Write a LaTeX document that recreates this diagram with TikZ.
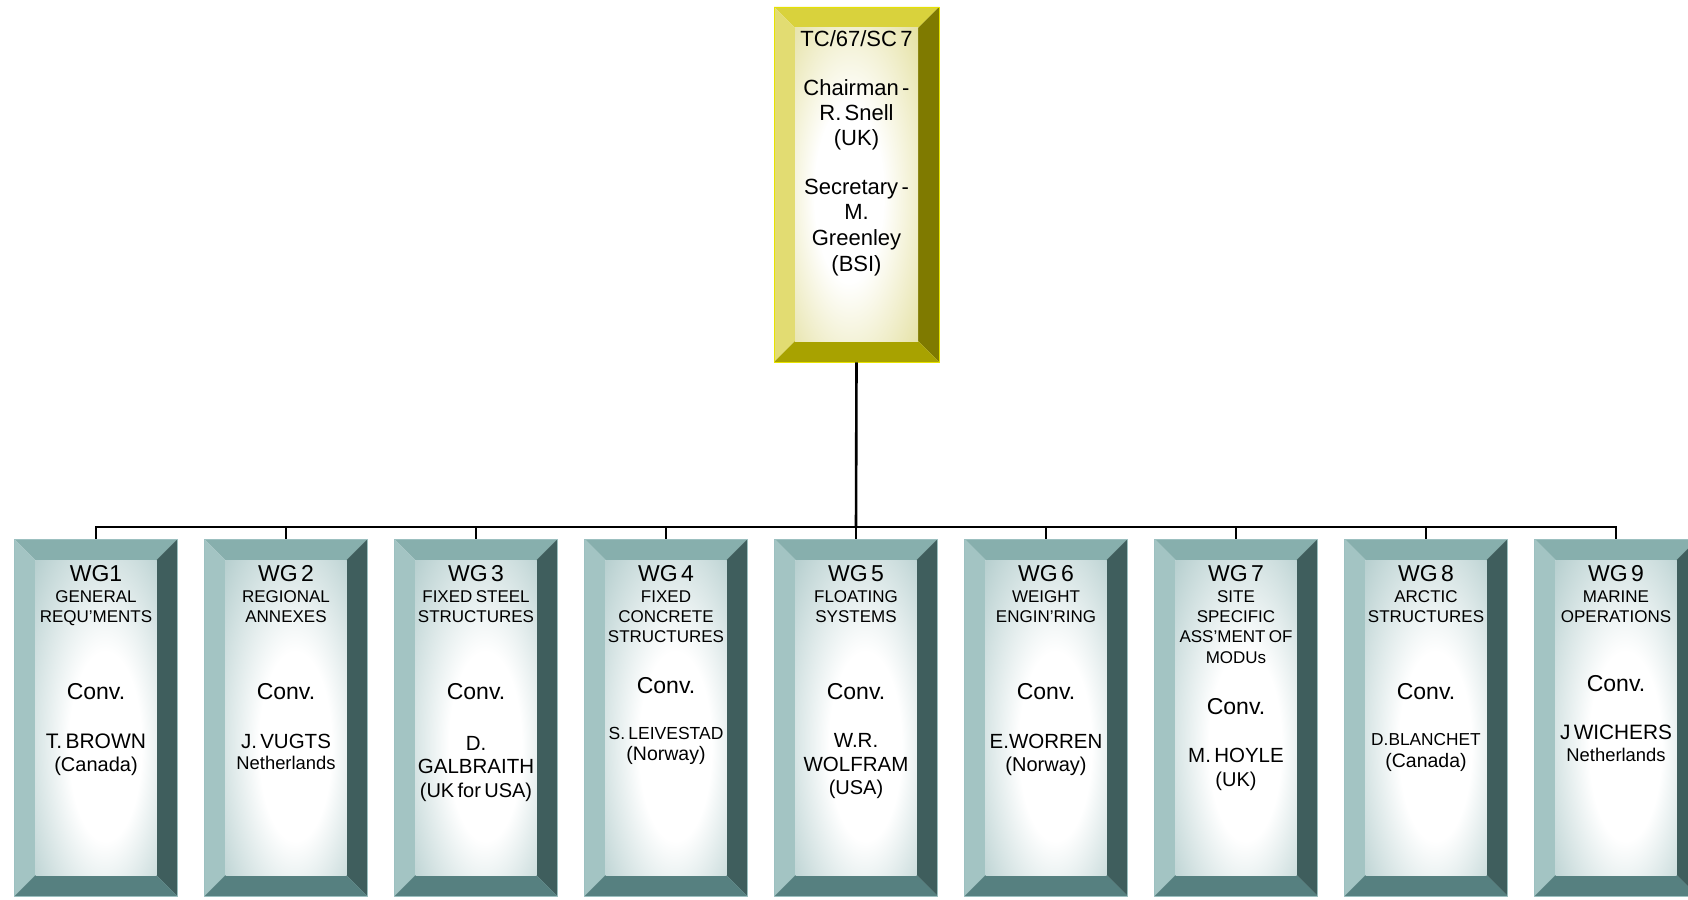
\documentclass[tikz,border=0pt]{standalone}
\usepackage{fontspec}
\setmainfont{Liberation Sans}

\definecolor{sctop}{HTML}{D9D23C}
\definecolor{scleft}{HTML}{E2DC72}
\definecolor{scright}{HTML}{7F7A00}
\definecolor{scbot}{HTML}{A8A200}
\definecolor{scline}{HTML}{E6E200}
\definecolor{scmid}{HTML}{E4E0A0}
\definecolor{scedge}{HTML}{ACA428}
\definecolor{wgtop}{HTML}{87AFAD}
\definecolor{wgleft}{HTML}{A3C4C3}
\definecolor{wgright}{HTML}{3F5E5D}
\definecolor{wgbot}{HTML}{568080}
\definecolor{wgline}{HTML}{9CC0C0}
\definecolor{wgmid}{HTML}{B8D0D0}
\definecolor{wgedge}{HTML}{5C8686}

\pgfdeclareradialshading{scglow}{\pgfpoint{-4bp}{-2bp}}{color(0bp)=(white); color(14bp)=(white); color(38bp)=(scmid); color(64bp)=(scedge)}
\pgfdeclareradialshading{wgglow}{\pgfpoint{5bp}{-6bp}}{color(0bp)=(white); color(15bp)=(white); color(38bp)=(wgmid); color(64bp)=(wgedge)}

% one line of box text: size, distance from the line above, text
\newcommand\tl[3]{{\fontsize{#1}{#2}\selectfont\noindent #3\par}}

\tikzset{
  bevel/.style n args={5}{inner sep=0pt, line width=0.8pt,
    path picture={
      \path (path picture bounding box.north west) coordinate (pnw)
            (path picture bounding box.north east) coordinate (pne)
            (path picture bounding box.south west) coordinate (psw)
            (path picture bounding box.south east) coordinate (pse);
      \path (pnw) ++(21pt,-21pt) coordinate (qnw)
            (pne) ++(-21pt,-21pt) coordinate (qne)
            (psw) ++(21pt,21pt) coordinate (qsw)
            (pse) ++(-21pt,21pt) coordinate (qse);
      \fill[#1] (pnw) -- (pne) -- (qne) -- (qnw) -- cycle;
      \fill[#2] (pnw) -- (qnw) -- (qsw) -- (psw) -- cycle;
      \fill[#3] (pne) -- (pse) -- (qse) -- (qne) -- cycle;
      \fill[#4] (psw) -- (qsw) -- (qse) -- (pse) -- cycle;
      \shade[shading=#5] (qnw) rectangle (qse);
    }},
  scbox/.style={bevel={sctop}{scleft}{scright}{scbot}{scglow}, draw=scline,
    minimum width=165pt, minimum height=355pt},
  wgbox/.style={bevel={wgtop}{wgleft}{wgright}{wgbot}{wgglow}, draw=wgline,
    minimum width=163pt, minimum height=357pt},
  boxtext/.style={text width=160pt, align=center, inner sep=0pt, anchor=base},
  trunk/.style={line width=2.6pt},
  busline/.style={line width=1.8pt},
}

\begin{document}
\begin{tikzpicture}[x=1pt,y=-1pt]
  \useasboundingbox (0,0) rectangle (1688,899);

  \node[scbox] (sc7) at (856.5,184.5) {};
  \node[boxtext] (sc7txt) at ([yshift=-40pt]sc7.north) {%
    \tl{22}{22}{TC/67/SC 7}\tl{22}{49}{Chairman -}\tl{22}{24.8}{R. Snell}%
    \tl{22}{24.8}{(UK)}\tl{22}{49.5}{Secretary -}\tl{22}{25}{M.}%
    \tl{22}{26}{Greenley}\tl{22}{25.5}{(BSI)}};

  \node[wgbox] (wg1) at (96,717.5) {};
  \node[wgbox] (wg2) at (286,717.5) {};
  \node[wgbox] (wg3) at (476,717.5) {};
  \node[wgbox] (wg4) at (666,717.5) {};
  \node[wgbox] (wg5) at (856,717.5) {};
  \node[wgbox] (wg6) at (1046,717.5) {};
  \node[wgbox] (wg7) at (1236,717.5) {};
  \node[wgbox] (wg8) at (1426,717.5) {};
  \node[wgbox] (wg9) at (1616,717.5) {};

  \node[boxtext] (wg1txt) at ([yshift=-43pt]wg1.north) {%
    \tl{23}{22}{WG1}\tl{17}{21}{GENERAL}\tl{17}{19.5}{REQU’MENTS}%
    \tl{23}{77.5}{Conv.}\tl{21}{48.5}{T. BROWN}\tl{20}{23}{(Canada)}};
  \node[boxtext] (wg2txt) at ([yshift=-43pt]wg2.north) {%
    \tl{23}{22}{WG 2}\tl{17}{21}{REGIONAL}\tl{17}{19.5}{ANNEXES}%
    \tl{23}{77.5}{Conv.}\tl{20.5}{48.5}{J. VUGTS}\tl{18.4}{21.5}{Netherlands}};
  \node[boxtext] (wg3txt) at ([yshift=-43pt]wg3.north) {%
    \tl{23}{22}{WG 3}\tl{17}{21}{FIXED STEEL}\tl{17}{19.5}{STRUCTURES}%
    \tl{23}{77.5}{Conv.}\tl{20.5}{51}{D.}\tl{20.5}{23}{GALBRAITH}%
    \tl{20}{23.5}{(UK for USA)}};
  \node[boxtext] (wg4txt) at ([yshift=-43pt]wg4.north) {%
    \tl{23}{22}{WG 4}\tl{17}{21}{FIXED}\tl{17}{19.5}{CONCRETE}%
    \tl{17}{20.5}{STRUCTURES}\tl{23}{51}{Conv.}\tl{17.5}{46}{S. LEIVESTAD}%
    \tl{19.5}{21}{(Norway)}};
  \node[boxtext] (wg5txt) at ([yshift=-43pt]wg5.north) {%
    \tl{23}{22}{WG 5}\tl{17}{21}{FLOATING}\tl{17}{19.5}{SYSTEMS}%
    \tl{23}{77.5}{Conv.}\tl{20.5}{48}{W.R.}\tl{20.5}{23.5}{WOLFRAM}%
    \tl{20}{23.5}{(USA)}};
  \node[boxtext] (wg6txt) at ([yshift=-43pt]wg6.north) {%
    \tl{23}{22}{WG 6}\tl{17}{21}{WEIGHT}\tl{17}{19.5}{ENGIN’RING}%
    \tl{23}{77.5}{Conv.}\tl{20.5}{48.5}{E.WORREN}\tl{20}{23}{(Norway)}};
  \node[boxtext] (wg7txt) at ([yshift=-43pt]wg7.north) {%
    \tl{23}{22}{WG 7}\tl{17}{21}{SITE}\tl{17}{19.5}{SPECIFIC}%
    \tl{17}{20.5}{ASS’MENT OF}\tl{17}{20.5}{MODUs}\tl{23}{51}{Conv.}%
    \tl{20.5}{48}{M. HOYLE}\tl{20}{24}{(UK)}};
  \node[boxtext] (wg8txt) at ([yshift=-43pt]wg8.north) {%
    \tl{23}{22}{WG 8}\tl{17}{21}{ARCTIC}\tl{17}{19.5}{STRUCTURES}%
    \tl{23}{77.5}{Conv.}\tl{17.3}{46}{D.BLANCHET}\tl{19.5}{22}{(Canada)}};
  \node[boxtext] (wg9txt) at ([yshift=-43pt]wg9.north) {%
    \tl{23}{22}{WG 9}\tl{17}{21}{MARINE}\tl{17}{19.5}{OPERATIONS}%
    \tl{23}{69.5}{Conv.}\tl{20.8}{48}{J WICHERS}\tl{18.4}{22}{Netherlands}};

  % connectors
  \coordinate (bus) at (856,527);
  \draw[trunk] (sc7.south) -- (bus);
  \foreach \i in {1,...,9}
    \draw[busline] (bus) -| (wg\i.north);
\end{tikzpicture}
\end{document}
